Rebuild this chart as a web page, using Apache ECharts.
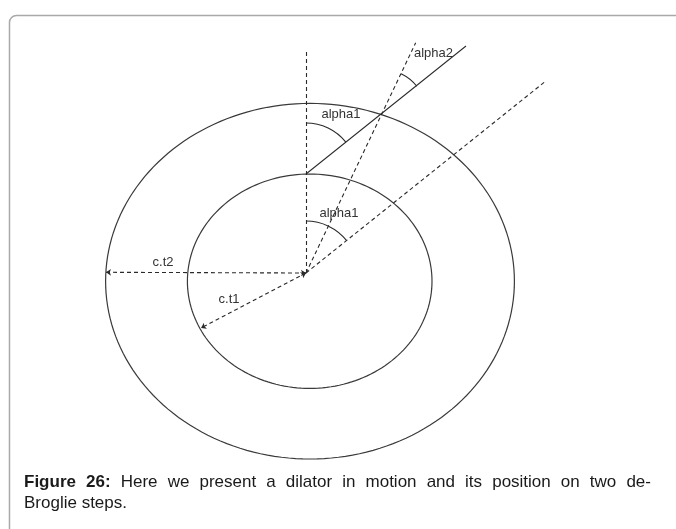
<!DOCTYPE html>
<html>
<head>
<meta charset="utf-8">
<script src="https://cdn.jsdelivr.net/npm/echarts@6/dist/echarts.min.js"></script>
<style>
  html, body { margin: 0; padding: 0; background: #fff; }
  #wrap { position: relative; width: 676px; height: 529px; overflow: hidden; }
  #chart { position: absolute; left: 0; top: 0; width: 676px; height: 529px; }
  .caption {
    position: absolute;
    left: 24px;
    width: 627px;
    font-family: "Liberation Sans", Arial, sans-serif;
    font-size: 17px;
    line-height: 21px;
    color: #1a1a1a;
    white-space: nowrap;
  }
  .caption.l1 { top: 471px; text-align: justify; text-align-last: justify; white-space: normal; }
  .caption.l2 { top: 492px; }
</style>
</head>
<body>
<div id="wrap">
  <div id="chart"></div>
  <div class="caption l1"><b>Figure 26:</b> Here we present a dilator in motion and its position on two de-</div>
  <div class="caption l2">Broglie steps.</div>
</div>
<script>
// 图形数据（坐标原点 = 两条半径汇合点，y 向上）
const ellipses = [
  // [cx, cy, rx, ry]
  [3.7, -8.2, 122.3, 107.2],   // 内圆 c.t1
  [4, -8.2, 204.4, 177.8]      // 外圆 c.t2
]
const solidSegments = [
  [[0, 99], [160, 227]]
]
const dashedSegments = [
  [[0, 0], [0, 221]],          // 竖直参考线
  [[0, 0], [109.7, 230.3]],    // 经过交点的射线
  [[0, 0], [239, 191.3]]       // 与实线平行的射线
]
const radiusSegments = [
  [[0, 0], [-200, 0.7]],       // c.t2
  [[0, 0], [-105, -55]]        // c.t1
]
// 角度弧: [cx, cy, r, 起始角(度), 终止角(度)]
const angleArcs = [
  [0, 99, 51, 38.6, 90],
  [0, 0, 52, 38.6, 90],
  [75.7, 158.7, 45, 38.6, 64.5]
]
const labelNames = ['alpha1', 'alpha1', 'alpha2', 'c.t2', 'c.t1']
const labelPos = [[35, 158.5], [33, 60], [127.5, 220], [-143, 10.7], [-77, -26]]

const chart = echarts.init(document.getElementById('chart'), null, { renderer: 'canvas' })

const toLines = segs => segs.map(s => ({ coords: s }))

const option = {
  animation: false,
  backgroundColor: '#fff',
  grid: { left: 0, top: 0, width: 676, height: 529 },
  xAxis: { type: 'value', min: -306, max: 370, show: false },
  yAxis: { type: 'value', min: -256, max: 273, show: false },
  graphic: [
    {
      type: 'rect',
      shape: { x: 9.5, y: 15.5, width: 720, height: 600, r: 7 },
      style: { fill: 'none', stroke: '#a9a9a9', lineWidth: 1.5 },
      z: -1
    }
  ],
  series: [
    {
      type: 'custom',
      coordinateSystem: 'cartesian2d',
      data: ellipses,
      renderItem: (params, api) => {
        const cx = api.value(0), cy = api.value(1), rx = api.value(2), ry = api.value(3)
        const pts = []
        for (let a = 0; a < 360; a += 2) {
          const t = a * Math.PI / 180
          pts.push(api.coord([cx + rx * Math.cos(t), cy + ry * Math.sin(t)]))
        }
        return {
          type: 'polygon',
          shape: { points: pts },
          style: { fill: 'none', stroke: '#3a3a3a', lineWidth: 1.2 }
        }
      }
    },
    {
      type: 'lines',
      coordinateSystem: 'cartesian2d',
      data: toLines(solidSegments),
      symbol: 'none',
      lineStyle: { color: '#2a2a2a', width: 1.1, type: 'solid', opacity: 1 }
    },
    {
      type: 'lines',
      coordinateSystem: 'cartesian2d',
      data: toLines(dashedSegments),
      symbol: 'none',
      lineStyle: { color: '#2a2a2a', width: 1.1, type: [4, 3], opacity: 1 }
    },
    {
      type: 'lines',
      coordinateSystem: 'cartesian2d',
      data: toLines(radiusSegments),
      symbol: ['arrow', 'arrow'],
      symbolSize: 5,
      lineStyle: { color: '#2a2a2a', width: 1.1, type: [4, 3], opacity: 1 }
    },
    {
      type: 'custom',
      coordinateSystem: 'cartesian2d',
      data: angleArcs,
      renderItem: (params, api) => {
        const c = api.coord([api.value(0), api.value(1)])
        const r = api.size([api.value(2), 0])[0]
        return {
          type: 'arc',
          shape: {
            cx: c[0], cy: c[1], r: r,
            startAngle: -api.value(4) * Math.PI / 180,
            endAngle: -api.value(3) * Math.PI / 180,
            clockwise: true
          },
          style: { fill: 'none', stroke: '#2a2a2a', lineWidth: 1.1 }
        }
      }
    },
    {
      type: 'custom',
      coordinateSystem: 'cartesian2d',
      data: labelPos.map((p, i) => [p[0], p[1], i]),
      renderItem: (params, api) => {
        const p = api.coord([api.value(0), api.value(1)])
        return {
          type: 'text',
          style: {
            text: labelNames[api.value(2)],
            x: p[0], y: p[1],
            align: 'center',
            verticalAlign: 'middle',
            fill: '#333',
            font: '13px "Liberation Sans", Arial, sans-serif'
          }
        }
      }
    }
  ]
}

chart.setOption(option)
</script>
</body>
</html>
